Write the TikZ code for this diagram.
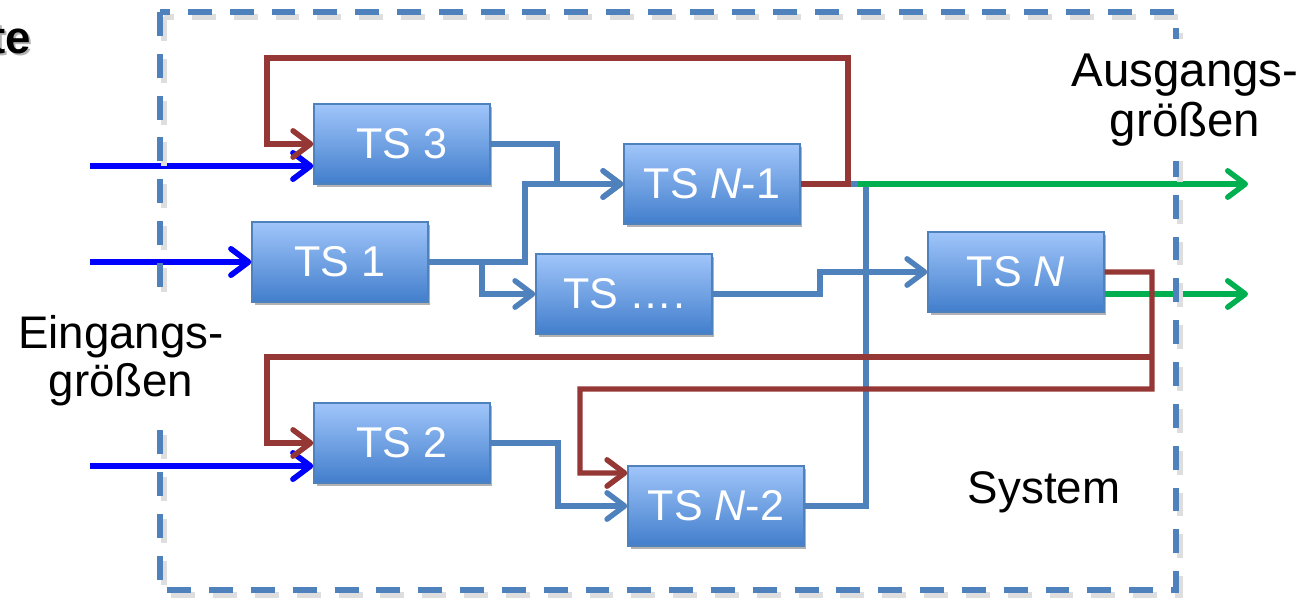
\documentclass[tikz,border=0pt]{standalone}
\usepackage{fontspec}
\setmainfont{Liberation Sans}
\usetikzlibrary{arrows.meta,shadows}

\definecolor{frameblue}{RGB}{79,129,189}
\definecolor{linkblue}{RGB}{79,129,189}
\definecolor{loopred}{RGB}{149,55,53}
\definecolor{outgreen}{RGB}{0,176,80}
\definecolor{inblue}{RGB}{0,0,255}
\definecolor{boxtop}{RGB}{160,197,250}
\definecolor{boxbottom}{RGB}{66,126,204}

\begin{document}
\begin{tikzpicture}[x=0.02cm,y=-0.02cm,>={Straight Barb[length=10pt,width=15pt,round]},
    ts node/.style={rectangle,draw=linkblue,line width=0.8pt,top color=boxtop,bottom color=boxbottom,
        minimum width=3.52cm,minimum height=1.6cm,inner sep=0pt,text=white,font=\fontsize{24.5}{29}\selectfont,
        drop shadow={shadow xshift=0.05cm,shadow yshift=-0.06cm,opacity=0.3,fill=black}},
    fwd/.style={draw=linkblue,line width=3.1pt},
    feedback/.style={draw=loopred,line width=3.1pt},
    inflow/.style={draw=inblue,line width=3.2pt},
    outflow/.style={draw=outgreen,line width=3.1pt},
    sysframe/.style={draw=frameblue,line width=3.2pt,dash pattern=on 13.6pt off 10.2pt},
    caption/.style={font=\fontsize{26}{27.5}\selectfont,align=center}]
    \useasboundingbox (0,0) rectangle (1304,599);

    % subsystems
    \node[ts node] (ts3) at (402,144) {TS 3};
    \node[ts node] (ts1) at (340,262) {TS 1};
    \node[ts node] (ts2) at (402,443) {TS 2};
    \node[ts node] (tsd) at (624,294) {TS ….};
    \node[ts node] (tsn1) at (712,184) {TS \textit{N}-1};
    \node[ts node] (tsn2) at (716,506) {TS \textit{N}-2};
    \node[ts node] (tsn) at (1016,272) {TS \textit{N}};

    % loose ends of inputs, outputs and branches
    \coordinate (in3) at (90,166);
    \coordinate (in1) at (90,262);
    \coordinate (in2) at (90,466);
    \coordinate (out1) at (1248,184);
    \coordinate (out2) at (1248,294);
    \coordinate (tap) at (858,184);
    \coordinate (fork) at (1152,357);

    % forward links
    \draw[fwd,->] (ts3.east) -| (557,184) -- (tsn1.west);
    \draw[fwd,->] (ts1.east) -| (525,184) -- (tsn1.west);
    \draw[fwd,->] (ts1.east) -| (482,294) -- (tsd.west);
    \draw[fwd,->] (tsd.east) -| (820,272) -- (tsn.west);
    \draw[fwd,->] (ts2.east) -| (558,506) -- (tsn2.west);
    \draw[fwd] (tsn2.east) -| (866,184) -- (848,184);

    % inputs and outputs
    \draw[inflow,->] (in3) -- (in3 -| ts3.west);
    \draw[inflow,->] (in1) -- (ts1.west);
    \draw[inflow,->] (in2) -- (in2 -| ts2.west);
    \draw[outflow,->] (tap) -- (out1);
    \draw[outflow,->] (out2 -| tsn.east) -- (out2);

    % feedback loops
    \draw[feedback,->] (tsn1.east) -| (848,58) -| (267,144) -- (ts3.west);
    \draw[feedback,->] (tsn.east) -| (1152,389) -| (580,473) -- ([yshift=0.66cm]tsn2.west);
    \draw[feedback,->] (fork) -| (267,443) -- (ts2.west);

    % system border
    \draw[sysframe,draw=black!13,shift={(4,5)}] (160,12) rectangle (1176,590);
    \draw[sysframe] (160,12) rectangle (1176,590);

    % texts
    \node[caption,fill=white,inner sep=0.3cm] (ein) at (121,361) {Eingangs-\\größen};
    \node[caption,fill=white,inner sep=0.3cm,font=\fontsize{27}{28.5}\selectfont] (aus) at (1185,100) {Ausgangs-\\größen};
    \node[caption,anchor=base] (sys) at (1044,503) {System};
    \node[caption,anchor=base east,inner sep=0pt,text=black!30] at (33,55) {\bfseries te};
    \node[caption,anchor=base east,inner sep=0pt] (te) at (31,53) {\bfseries te};
\end{tikzpicture}
\end{document}
